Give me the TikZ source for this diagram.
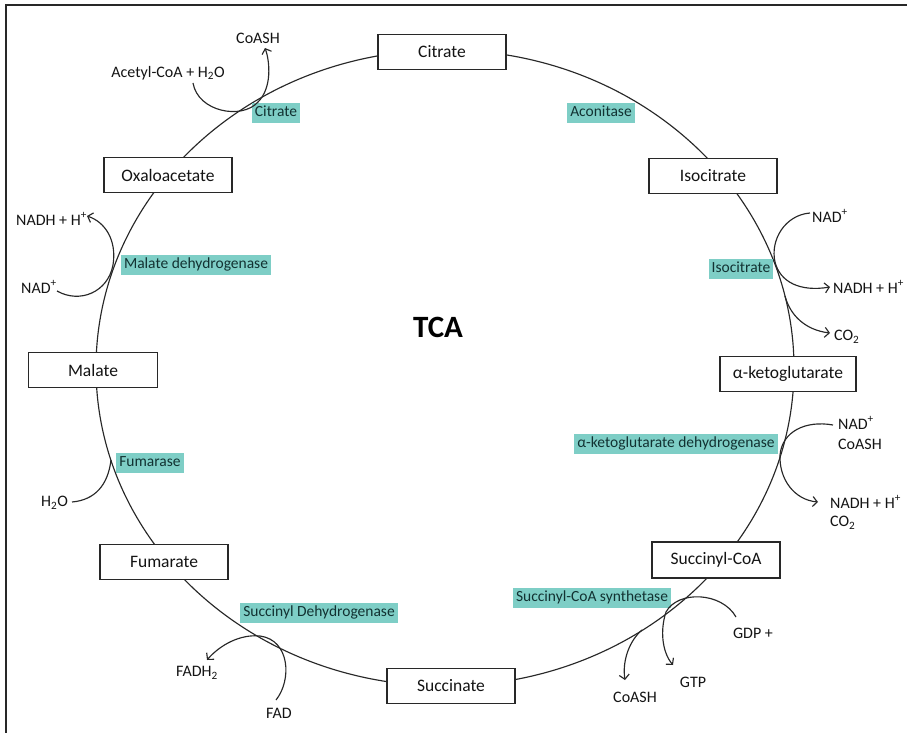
\documentclass[tikz,border=0pt]{standalone}
\usepackage{fontspec}
\setmainfont{Carlito}
\usetikzlibrary{arrows.meta}
\definecolor{hl}{RGB}{126,206,198}
\definecolor{ln}{RGB}{40,40,40}
\definecolor{txt}{RGB}{20,20,20}
\definecolor{enzt}{RGB}{18,50,50}
\begin{document}
\begin{tikzpicture}[x=1pt,y=-1pt,
  mol/.style={draw=ln, line width=1.2pt, fill=white, minimum width=128pt, minimum height=35pt, inner sep=0pt, text=txt, font=\fontsize{17.5}{20}\selectfont},
  enz/.style={fill=hl, inner xsep=3pt, inner ysep=2.5pt, text height=11pt, text depth=3.5pt, text=enzt, font=\fontsize{15.5}{18}\selectfont},
  lab/.style={inner sep=0pt, text=txt, font=\fontsize{16}{19}\selectfont},
  rx/.style={draw=ln, line width=1.15pt},
  rxa/.style={rx, -{Straight Barb[length=4.5pt,width=10pt]}}]
\useasboundingbox (0,0) rectangle (907,733);
\draw[ln, line width=1.4pt] (6,733) -- (6,5) -- (907,5);
% cycle
\draw[rx] (445,368) ellipse [x radius=349pt, y radius=318pt];
% metabolites
\node[mol] (cit) at (442,52) {Citrate};
\node[mol] (oxa) at (168,175) {Oxaloacetate};
\node[mol] (iso) at (713,176) {Isocitrate};
\node[mol, minimum width=129pt] (mal) at (93,370) {Malate};
\node[mol, minimum width=136pt] (akg) at (788,374) {α-ketoglutarate};
\node[mol] (fum) at (164,562) {Fumarate};
\node[mol, minimum height=36pt] (suc) at (716,560) {Succinyl-CoA};
\node[mol] (sin) at (451,686) {Succinate};
\node[text=black, font=\fontsize{31}{34}\selectfont\bfseries] (tca) at (438,327) {TCA};
% enzymes
\node[enz] (eCit) at (276,113) {Citrate};
\node[enz] (eAco) at (601,113) {Aconitase};
\node[enz] (eMdh) at (196,265) {Malate dehydrogenase};
\node[enz] (eFum) at (150,463) {Fumarase};
\node[enz] (eIdh) at (741,269) {Isocitrate};
\node[enz] (eAkg) at (676,444) {α-ketoglutarate dehydrogenase};
\node[enz] (eSdh) at (319,613) {Succinyl Dehydrogenase};
\node[enz] (eScs) at (592,598) {Succinyl-CoA synthetase};
% side labels
\node[lab] (acoa) at (168,73) {Acetyl-CoA + H\textsubscript{2}O};
\node[lab] (coa1) at (258,38) {CoASH};
\node[lab, anchor=west] (nadh1) at (16,219) {NADH + H\textsuperscript{+}};
\node[lab, anchor=west] (nad1) at (21,287) {NAD\textsuperscript{+}};
\node[lab, anchor=west] (h2o) at (41,503) {H\textsubscript{2}O};
\node[lab] (fadh) at (197,673) {FADH\textsubscript{2}};
\node[lab] (fad) at (279,713) {FAD};
\node[lab] (gdp) at (753,633) {GDP +};
\node[lab] (gtp) at (693,682) {GTP};
\node[lab] (coa2) at (635,697) {CoASH};
\node[lab, anchor=west] (nad3) at (838,423) {NAD\textsuperscript{+}};
\node[lab, anchor=west] (coa3) at (838,444) {CoASH};
\node[lab, anchor=west] (nadh3) at (830,502) {NADH + H\textsuperscript{+}};
\node[lab, anchor=west] (co23) at (830,523) {CO\textsubscript{2}};
\node[lab, anchor=west] (nad2) at (812,216) {NAD\textsuperscript{+}};
\node[lab, anchor=west] (nadh2) at (833,287) {NADH + H\textsuperscript{+}};
\node[lab, anchor=west] (co22) at (834,337) {CO\textsubscript{2}};
% reaction curve end points
\coordinate (a1) at (193,83);
\coordinate (a2) at (265,48);
\coordinate (m1) at (57,291);
\coordinate (m2) at (87,216);
\coordinate (f1) at (72,502);
\coordinate (f2) at (111,460);
\coordinate (s1) at (276,700);
\coordinate (s2) at (207,660);
\coordinate (g1) at (736,617);
\coordinate (g2) at (673,665);
\coordinate (c1) at (642,630);
\coordinate (c2) at (625,680);
\coordinate (k1) at (833,425);
\coordinate (k2) at (818,502);
\coordinate (i1) at (810,213);
\coordinate (i2) at (830,287);
\coordinate (o1) at (785,296);
\coordinate (o2) at (830,333);
% reactions
\draw[rxa] (a1) .. controls (198,112) and (242,120) .. (258,102) .. controls (272,88) and (270,62) .. (a2);
\draw[rxa] (m1) .. controls (80,304) and (108,292) .. (113,265) .. controls (117,240) and (105,222) .. (m2);
\draw[rx] (f1) .. controls (95,500) and (108,485) .. (f2);
\draw[rxa] (s1) .. controls (292,680) and (290,640) .. (260,636) .. controls (240,634) and (220,645) .. (s2);
\draw[rxa] (g1) .. controls (722,592) and (678,590) .. (666,612) .. controls (660,630) and (662,652) .. (g2);
\draw[rxa] (c1) .. controls (630,640) and (622,660) .. (c2);
\draw[rxa] (k1) .. controls (805,420) and (782,432) .. (780,455) .. controls (779,480) and (795,500) .. (k2);
\draw[rxa] (i1) .. controls (785,215) and (770,240) .. (775,262) .. controls (780,282) and (800,292) .. (i2);
\draw[rxa] (o1) .. controls (790,315) and (805,330) .. (o2);
\end{tikzpicture}
\end{document}
